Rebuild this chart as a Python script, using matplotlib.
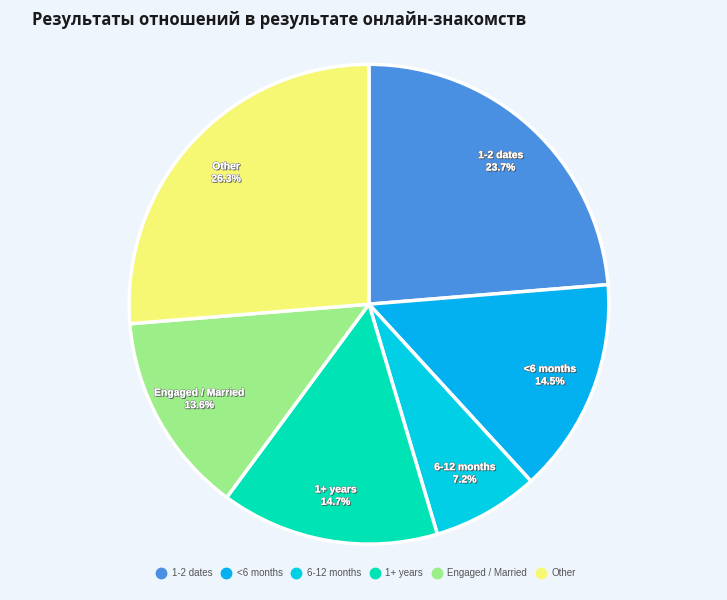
import numpy as np
import matplotlib.pyplot as plt
import matplotlib.patheffects as pe
from matplotlib.lines import Line2D

categories = ["1-2 dates", "<6 months", "6-12 months", "1+ years", "Engaged / Married", "Other"]
shares = [23.7, 14.5, 7.2, 14.7, 13.6, 26.3]
colors = ["#4a90e2", "#03b1f0", "#00cfe6", "#00e3b5", "#9bee88", "#f6f873"]
title = "Результаты отношений в результате онлайн-знакомств"
bg = "#eef5fd"

fig = plt.figure(figsize=(7.27, 6.0), dpi=100, facecolor=bg)
ax = fig.add_axes([0.1775, 0.093, 0.66, 0.8])
ax.set_facecolor(bg)

wedges, texts = ax.pie(shares, colors=colors, startangle=90, counterclock=False,
                       radius=1, labeldistance=None,
                       wedgeprops=dict(edgecolor="white", linewidth=2.5))
ax.set_xlim(-1, 1)
ax.set_ylim(-1, 1)
ax.set_aspect("equal")
ax.axis("off")

# labels inside the slices, white with a soft shadow
start = 90.0
for name, v in zip(categories, shares):
    mid = np.deg2rad(start - v / 100 * 360 / 2)
    start -= v / 100 * 360
    x, y = 0.81 * np.cos(mid), 0.81 * np.sin(mid)
    ax.text(x, y, f"{name}\n{v}%", ha="center", va="center", color="white",
            fontsize=7.5, fontweight="bold", family="Liberation Sans", linespacing=1.3,
            path_effects=[pe.withSimplePatchShadow(offset=(0.8, -0.8), shadow_rgbFace="#333333", alpha=0.7),
                          pe.withStroke(linewidth=0.8, foreground="#777777"),
                          pe.Normal()])

fig.text(32 / 727, 1 - 20 / 600, title, ha="left", va="center",
         fontsize=12.0, fontweight="bold", family="Open Sans", color="#1a1a1a")

handles = [Line2D([], [], marker="o", linestyle="", markersize=7.5,
                  markerfacecolor=c, markeredgecolor=c) for c in colors]
fig.legend(handles, categories, loc="center", bbox_to_anchor=(0.5, 1 - 573 / 600),
           ncol=6, frameon=False, handletextpad=0.1, columnspacing=0.4,
           prop={"family": "Liberation Sans", "size": 7}, labelcolor="#555555")

fig.savefig("out.png", dpi=100, facecolor=bg)
